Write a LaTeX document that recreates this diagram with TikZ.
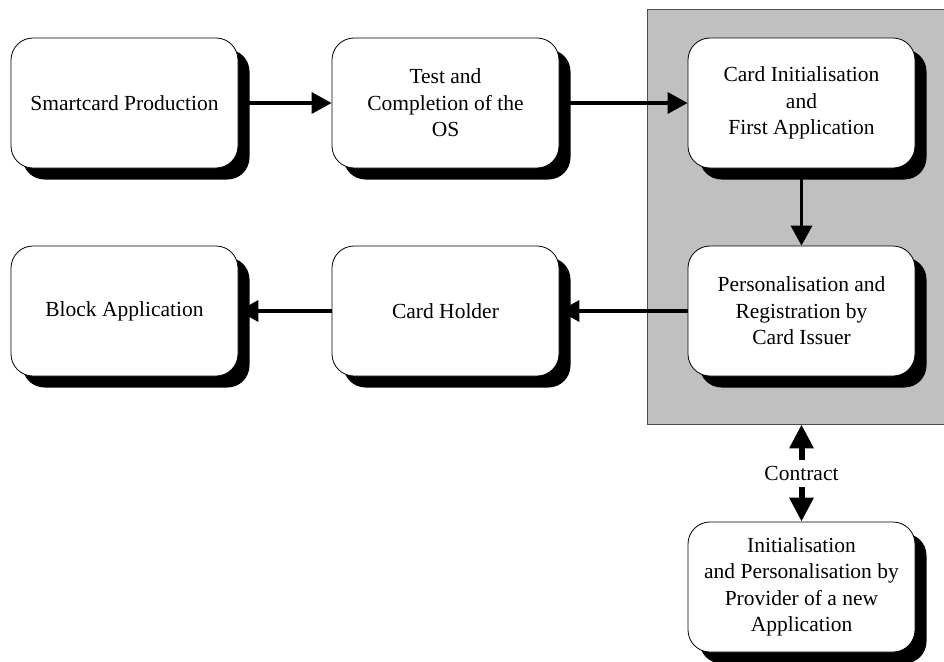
\documentclass[tikz,border=0pt]{standalone}
\usepackage{fontspec}
\setmainfont{Liberation Serif}
\usetikzlibrary{arrows.meta,shadows}
\pgfdeclarelayer{panel}
\pgfdeclarelayer{links}
\pgfsetlayers{panel,links,main}
\definecolor{panelgray}{RGB}{192,192,192}
\begin{document}
\begin{tikzpicture}[x=1pt,y=-1pt,
  stage/.style={draw=black, line width=0.8pt, fill=white, rounded corners=22pt,
    minimum width=227pt, minimum height=130pt, inner sep=0pt, align=center,
    font=\fontsize{21.5}{26.5}\selectfont,
    general shadow={fill=black, shadow xshift=11.5pt, shadow yshift=-11.5pt}},
  flow/.style={line width=3.5pt, -{Triangle[length=20pt,width=21pt]}},
  pact/.style={line width=6pt, -{Triangle[length=24pt,width=23pt]}},
]
\useasboundingbox (0,0) rectangle (944,661);

% life-cycle stages
\node[stage] (prod)   at (124.5,103) {Smartcard Production};
\node[stage] (os)     at (445.5,103) {Test and\\Completion of the\\OS};
\node[stage] (init)   at (801.5,103) {Card Initialisation\\and\\First Application};
\node[stage] (perso)  at (801.5,311) {Personalisation and\\Registration by\\Card Issuer};
\node[stage] (holder) at (445.5,311) {Card Holder};
\node[stage] (block)  at (124.5,311) {Block Application};
\node[stage] (newapp) at (801.5,587) {Initialisation\\and Personalisation by\\Provider of a new\\Application};
\node[inner sep=0pt, minimum height=27pt, font=\fontsize{21.5}{26.5}\selectfont]
  (contract) at (801.5,473.5) {Contract};

% card issuer domain
\begin{pgfonlayer}{panel}
\node[draw=black!70, line width=0.8pt, fill=panelgray, minimum width=299pt,
  minimum height=415pt, inner sep=0pt] (issuer) at (796.5,216.5) {};
\end{pgfonlayer}

% transitions
\begin{pgfonlayer}{links}
\draw[flow] (prod.east) -- (os.west);
\draw[flow] (os.east) -- (init.west);
\draw[flow] (init.south) -- (perso.north);
\draw[flow] (perso.west) -- (holder.east);
\draw[flow] (holder.west) -- (block.east);
\draw[pact] (contract.north) -- (contract.north |- issuer.south);
\draw[pact] (contract.south) -- (newapp.north);
\end{pgfonlayer}
\end{tikzpicture}
\end{document}
